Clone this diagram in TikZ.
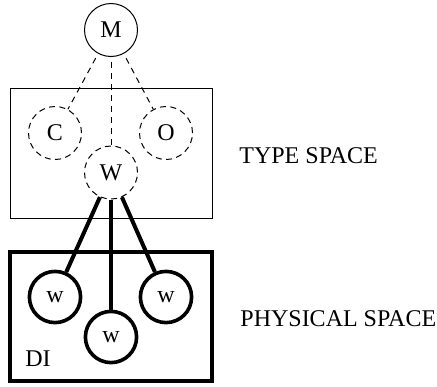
\documentclass[tikz,border=0pt]{standalone}
\usepackage{fontspec}
\setmainfont{Liberation Serif}
\begin{document}
\begin{tikzpicture}[x=0.5pt,y=-0.5pt,
  every node/.style={font=\fontsize{12}{14}\selectfont},
  typecirc/.style={circle,draw,line width=0.5pt,dash pattern=on 3pt off 2.2pt,minimum size=26.5pt,inner sep=0pt},
  topcirc/.style={circle,draw,line width=0.5pt,minimum size=26.5pt,inner sep=0pt},
  physcirc/.style={circle,draw,line width=1.8pt,minimum size=25.6pt,inner sep=0pt},
  dashlink/.style={line width=0.5pt,dash pattern=on 3pt off 2.5pt,shorten <=2.5pt},
  thicklink/.style={line width=2pt},
  lbl/.style={anchor=base west,inner sep=0pt}]
\useasboundingbox (0,0) rectangle (437,386);
% boxes
\draw[line width=0.5pt] (10,88) rectangle (212,218);
\draw[line width=2pt] (10.3,252) rectangle (212,381);
% nodes
\node[topcirc] (M) at (111,30) {M};
\node[typecirc] (C) at (55,133) {C};
\node[typecirc] (O) at (166,133) {O};
\node[typecirc] (W) at (111,172.5) {W};
\node[physcirc] (w1) at (55,297) {w};
\node[physcirc] (w2) at (111,337) {w};
\node[physcirc] (w3) at (166,297) {w};
% connectors
\draw[dashlink] (M) -- (C);
\draw[dashlink] (M) -- (W);
\draw[dashlink] (M) -- (O);
\draw[thicklink] (W) -- (w1);
\draw[thicklink] (W) -- (w2);
\draw[thicklink] (W) -- (w3);
% labels
\node[lbl] (ts) at (239,163) {TYPE SPACE};
\node[lbl] (ps) at (240,326) {PHYSICAL SPACE};
\node[lbl] (di) at (25,366.5) {DI};
\end{tikzpicture}
\end{document}
